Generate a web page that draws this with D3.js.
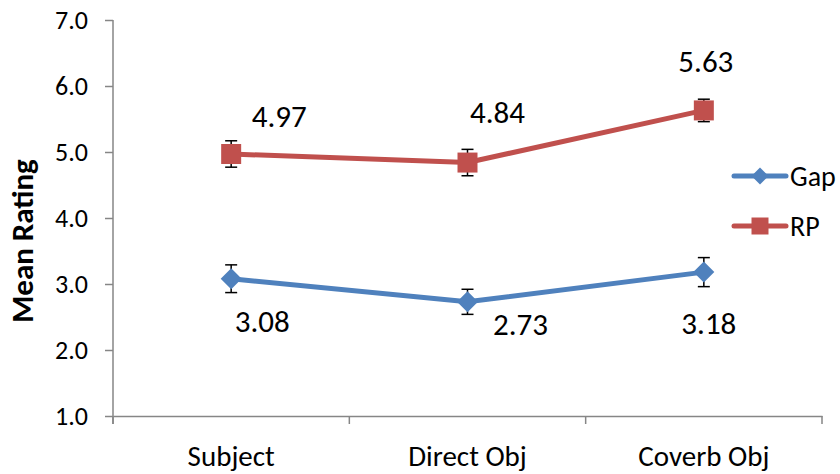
<!DOCTYPE html>
<html>
<head>
<meta charset="utf-8">
<script src="https://cdn.jsdelivr.net/npm/d3@7"></script>
<style>
  html, body { margin: 0; padding: 0; background: #fff; }
  svg { display: block; font-family: Carlito, Calibri, Lato, sans-serif; }
</style>
</head>
<body>
<svg id="chart" width="840" height="474"></svg>
<script>
const categories = ["Subject", "Direct Obj", "Coverb Obj"];
const gapMeans = [3.08, 2.73, 3.18];
const gapErrors = [0.21, 0.19, 0.22];
const rpMeans = [4.97, 4.84, 5.63];
const rpErrors = [0.20, 0.20, 0.17];
const yTicks = [1, 2, 3, 4, 5, 6, 7];
const seriesNames = ["Gap", "RP"];

const svg = d3.select("#chart");
const x = d3.scaleBand().domain(categories).range([113, 822]);
const y = d3.scaleLinear().domain([1, 7]).range([416, 20]);
const cx = c => x(c) + x.bandwidth() / 2;

const axisColor = "#868686";
const FONT = "Carlito, Calibri, Lato, sans-serif";

// Y axis
const gy = svg.append("g").attr("transform", "translate(113,0)")
  .call(d3.axisLeft(y).tickValues(yTicks).tickFormat(d3.format(".1f"))
    .tickSize(8).tickSizeOuter(0).tickPadding(17));
gy.select(".domain").remove();
gy.selectAll(".tick line").attr("stroke", axisColor).attr("stroke-width", 1.5);
gy.selectAll(".tick text").attr("font-size", 26).attr("fill", "#000")
  .attr("font-family", FONT);
gy.append("line").attr("x1", 0).attr("x2", 0)
  .attr("y1", y(7)).attr("y2", y(1) + 8)
  .attr("stroke", axisColor).attr("stroke-width", 1.5);

// X axis
const gx = svg.append("g").attr("transform", "translate(0,416)")
  .call(d3.axisBottom(x).tickSize(0).tickPadding(0).tickSizeOuter(0));
gx.select(".domain").attr("stroke", axisColor).attr("stroke-width", 1.5);
gx.selectAll(".tick text").attr("font-size", 29).attr("fill", "#000")
  .attr("dy", null).attr("y", 50)
  .attr("font-family", FONT);
const boundaries = categories.map(c => x(c)).concat([x.range()[1]]);
gx.selectAll("line.bound").data(boundaries).enter().append("line")
  .attr("class", "bound")
  .attr("x1", d => d).attr("x2", d => d).attr("y1", 0).attr("y2", 8)
  .attr("stroke", axisColor).attr("stroke-width", 1.5);

// Y axis title
svg.append("text")
  .attr("transform", "translate(33,241) rotate(-90)")
  .attr("text-anchor", "middle")
  .attr("font-size", 31).attr("font-weight", "bold")
  .text("Mean Rating");

const colors = { Gap: "#4F81BD", RP: "#C0504D" };
const diamond = s => `M0,${-s}L${s},0L0,${s}L${-s},0Z`;
const square = s => `M${-s},${-s}H${s}V${s}H${-s}Z`;

const series = [
  { name: "Gap", means: gapMeans, errs: gapErrors, shape: diamond, sz: 10.5,
    offsets: [[31, 53], [53, 33], [5, 62]] },
  { name: "RP", means: rpMeans, errs: rpErrors, shape: square, sz: 10,
    offsets: [[48, -27], [30, -40], [2, -38]] }
];

const line = d3.line().x(d => cx(d.c)).y(d => y(d.v));

series.forEach(s => {
  const pts = categories.map((c, i) => ({ c, v: s.means[i], e: s.errs[i], o: s.offsets[i] }));
  const g = svg.append("g");
  g.append("path").datum(pts).attr("d", line)
    .attr("fill", "none").attr("stroke", colors[s.name]).attr("stroke-width", 5)
    .attr("stroke-linejoin", "round").attr("stroke-linecap", "round");
  // error bars
  const eb = g.selectAll("g.eb").data(pts).enter().append("g").attr("class", "eb");
  eb.append("line").attr("x1", d => cx(d.c)).attr("x2", d => cx(d.c))
    .attr("y1", d => y(d.v + d.e)).attr("y2", d => y(d.v - d.e))
    .attr("stroke", "#000").attr("stroke-width", 1.5);
  [1, -1].forEach(sign => {
    eb.append("line").attr("x1", d => cx(d.c) - 6).attr("x2", d => cx(d.c) + 6)
      .attr("y1", d => y(d.v + sign * d.e)).attr("y2", d => y(d.v + sign * d.e))
      .attr("stroke", "#000").attr("stroke-width", 1.5);
  });
  // markers on top of the error stems
  g.selectAll("path.mk").data(pts).enter().append("path").attr("class", "mk")
    .attr("d", s.shape(s.sz))
    .attr("transform", d => `translate(${cx(d.c)},${y(d.v)})`)
    .attr("fill", colors[s.name]);
  // data labels
  g.selectAll("text.lbl").data(pts).enter().append("text").attr("class", "lbl")
    .attr("x", d => cx(d.c) + d.o[0]).attr("y", d => y(d.v) + d.o[1])
    .attr("text-anchor", "middle").attr("font-size", 31).attr("fill", "#000")
    .text(d => d3.format(".2f")(d.v));
});

// Legend
const legendY = [176, 226];
const lg = svg.append("g");
series.forEach((s, i) => {
  const ly = legendY[i];
  lg.append("line").attr("x1", 734).attr("x2", 786).attr("y1", ly).attr("y2", ly)
    .attr("stroke", colors[s.name]).attr("stroke-width", 5).attr("stroke-linecap", "round");
  lg.append("path").attr("d", s.name === "Gap" ? diamond(8.5) : square(8.5))
    .attr("transform", `translate(760,${ly})`).attr("fill", colors[s.name]);
  lg.append("text").attr("x", 790).attr("y", ly + 10).attr("font-size", 28)
    .attr("fill", "#000").text(seriesNames[i]);
});
</script>
</body>
</html>
